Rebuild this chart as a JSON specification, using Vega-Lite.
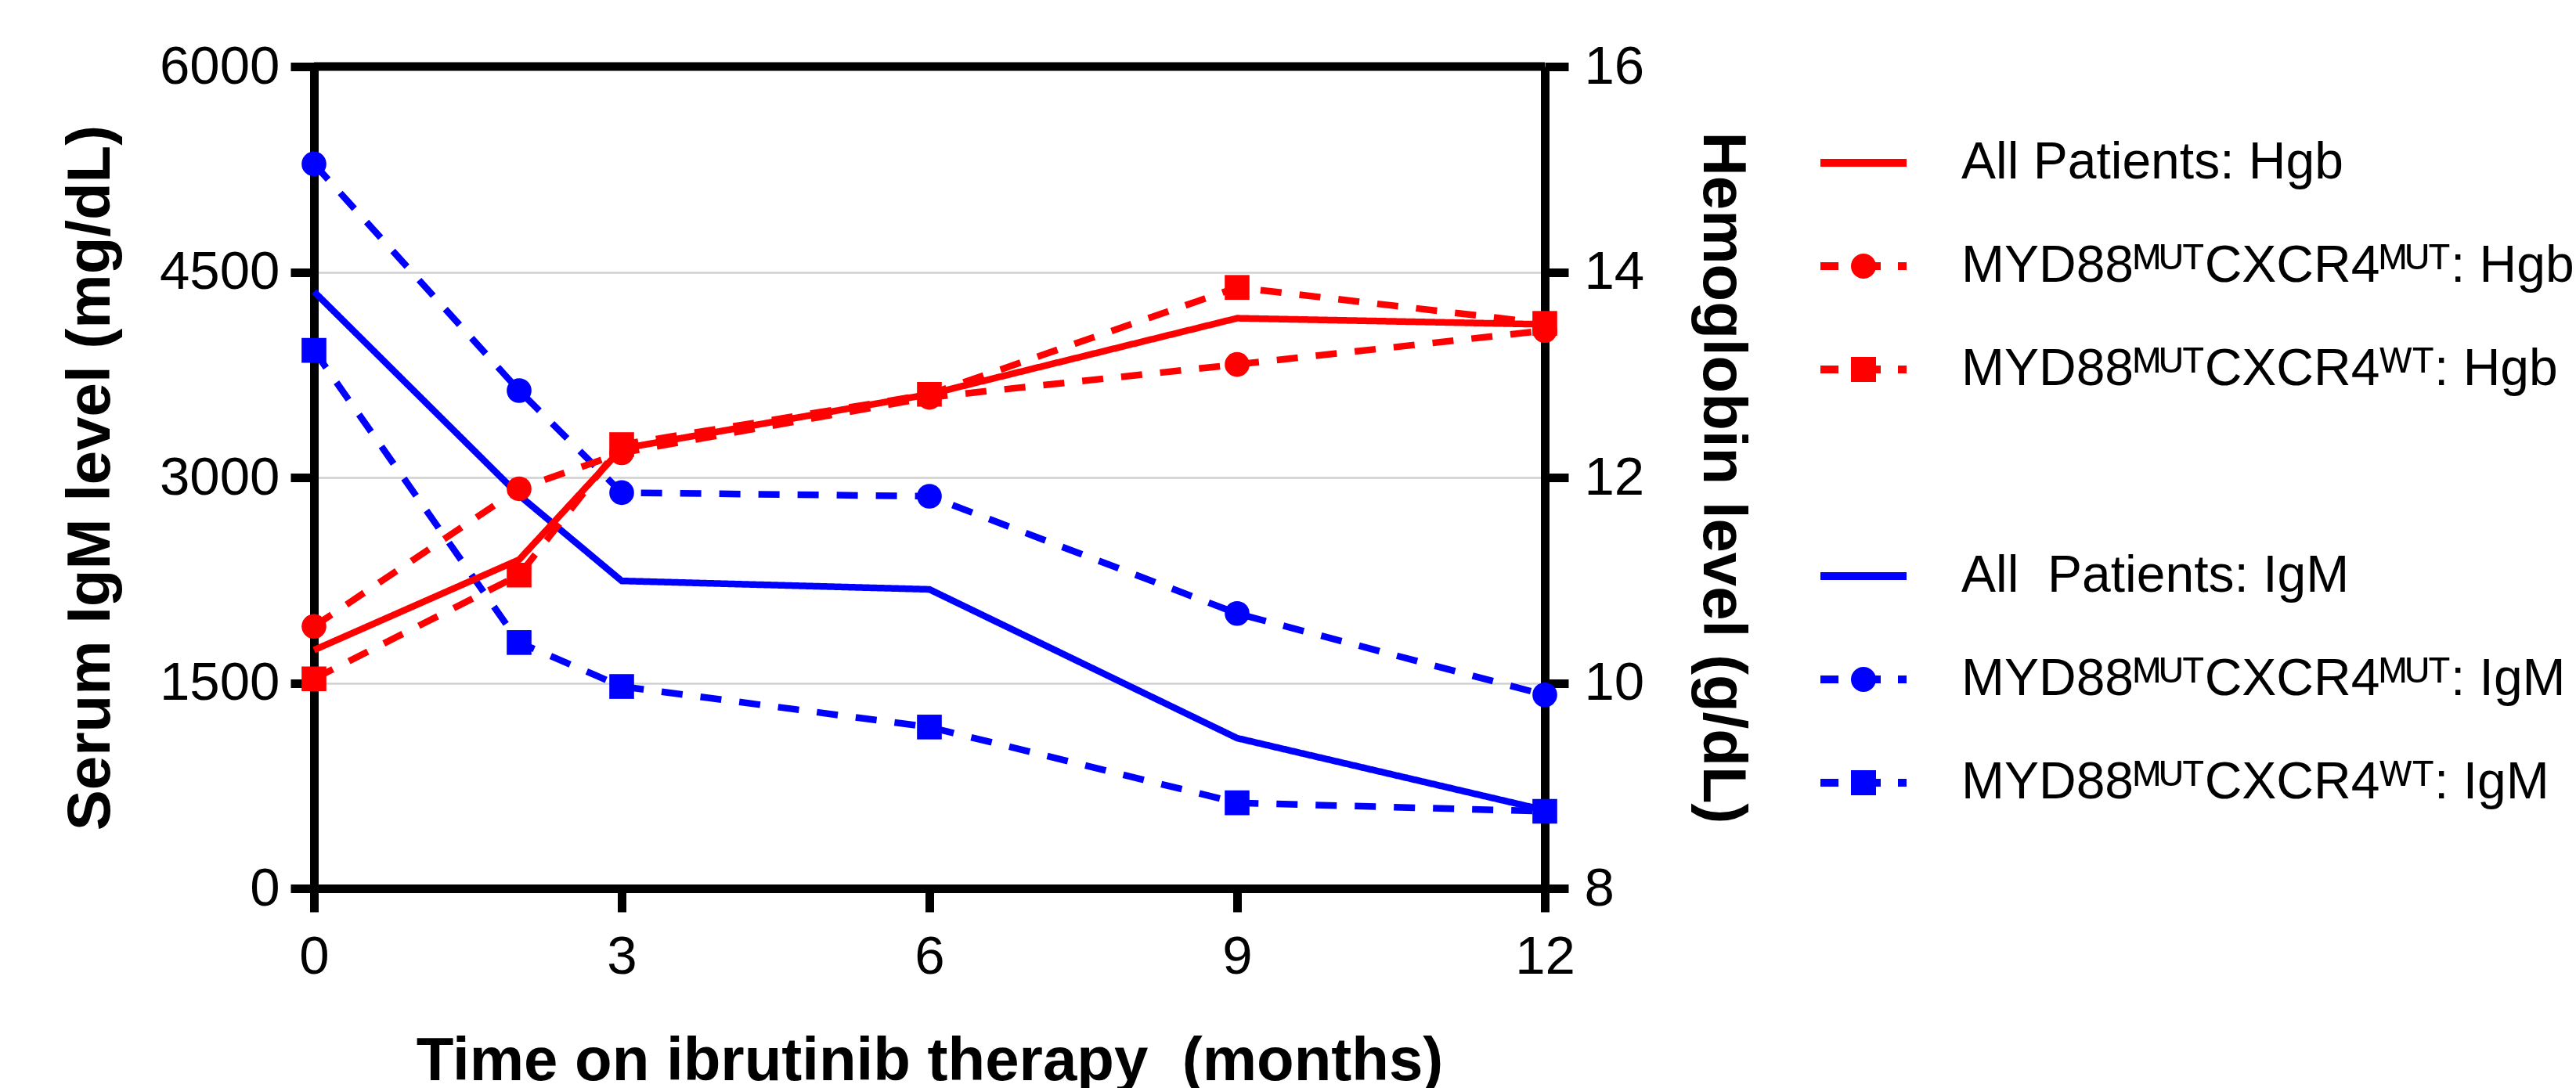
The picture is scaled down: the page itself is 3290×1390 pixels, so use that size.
{
  "$schema": "https://vega.github.io/schema/vega-lite/v6.json",
  "width": 1572,
  "height": 1050,
  "autosize": {"type": "none"},
  "padding": {"left": 401, "top": 85, "right": 1317, "bottom": 255},
  "background": "white",
  "datasets": {
    "d": [
      {"month": 0, "value": 4357, "measure": "IgM", "cohort": "All"},
      {"month": 2, "value": 2870, "measure": "IgM", "cohort": "All"},
      {"month": 3, "value": 2245, "measure": "IgM", "cohort": "All"},
      {"month": 6, "value": 2183, "measure": "IgM", "cohort": "All"},
      {"month": 9, "value": 1097, "measure": "IgM", "cohort": "All"},
      {"month": 12, "value": 571, "measure": "IgM", "cohort": "All"},
      {"month": 0, "value": 5289, "measure": "IgM", "cohort": "MUT"},
      {"month": 2, "value": 3634, "measure": "IgM", "cohort": "MUT"},
      {"month": 3, "value": 2889, "measure": "IgM", "cohort": "MUT"},
      {"month": 6, "value": 2863, "measure": "IgM", "cohort": "MUT"},
      {"month": 9, "value": 2007, "measure": "IgM", "cohort": "MUT"},
      {"month": 12, "value": 1413, "measure": "IgM", "cohort": "MUT"},
      {"month": 0, "value": 3928, "measure": "IgM", "cohort": "WT"},
      {"month": 2, "value": 1795, "measure": "IgM", "cohort": "WT"},
      {"month": 3, "value": 1474, "measure": "IgM", "cohort": "WT"},
      {"month": 6, "value": 1178, "measure": "IgM", "cohort": "WT"},
      {"month": 9, "value": 625, "measure": "IgM", "cohort": "WT"},
      {"month": 12, "value": 563, "measure": "IgM", "cohort": "WT"},
      {"month": 0, "value": 10.32, "measure": "Hgb", "cohort": "All"},
      {"month": 2, "value": 11.2, "measure": "Hgb", "cohort": "All"},
      {"month": 3, "value": 12.28, "measure": "Hgb", "cohort": "All"},
      {"month": 6, "value": 12.81, "measure": "Hgb", "cohort": "All"},
      {"month": 9, "value": 13.55, "measure": "Hgb", "cohort": "All"},
      {"month": 12, "value": 13.49, "measure": "Hgb", "cohort": "All"},
      {"month": 0, "value": 10.55, "measure": "Hgb", "cohort": "MUT"},
      {"month": 2, "value": 11.89, "measure": "Hgb", "cohort": "MUT"},
      {"month": 3, "value": 12.24, "measure": "Hgb", "cohort": "MUT"},
      {"month": 6, "value": 12.78, "measure": "Hgb", "cohort": "MUT"},
      {"month": 9, "value": 13.1, "measure": "Hgb", "cohort": "MUT"},
      {"month": 12, "value": 13.43, "measure": "Hgb", "cohort": "MUT"},
      {"month": 0, "value": 10.04, "measure": "Hgb", "cohort": "WT"},
      {"month": 2, "value": 11.05, "measure": "Hgb", "cohort": "WT"},
      {"month": 3, "value": 12.32, "measure": "Hgb", "cohort": "WT"},
      {"month": 6, "value": 12.81, "measure": "Hgb", "cohort": "WT"},
      {"month": 9, "value": 13.85, "measure": "Hgb", "cohort": "WT"},
      {"month": 12, "value": 13.5, "measure": "Hgb", "cohort": "WT"}
    ],
    "leg": [
      {"series": "All Patients: Hgb"},
      {"series": "MYD88\u1d39\u1d41\u1d40CXCR4\u1d39\u1d41\u1d40: Hgb"},
      {"series": "MYD88\u1d39\u1d41\u1d40CXCR4\u1d42\u1d40: Hgb"},
      {"series": "All\u00a0 Patients: IgM"},
      {"series": "MYD88\u1d39\u1d41\u1d40CXCR4\u1d39\u1d41\u1d40: IgM"},
      {"series": "MYD88\u1d39\u1d41\u1d40CXCR4\u1d42\u1d40: IgM"}
    ]
  },
  "config": {
    "font": "Liberation Sans",
    "view": {"stroke": "transparent"},
    "axis": {
      "domainColor": "black", "domainWidth": 11,
      "tickColor": "black", "tickWidth": 11, "tickSize": 30,
      "labelFont": "Liberation Sans", "labelFontSize": 69, "labelColor": "black",
      "titleFont": "Liberation Sans", "titleFontSize": 78, "titleFontWeight": "bold", "titleColor": "black",
      "grid": false, "labelFlush": false, "labelOverlap": false
    }
  },
  "layer": [
    {
      "data": {"name": "d"},
      "transform": [{"filter": "datum.measure === 'IgM'"}],
      "encoding": {
        "x": {"field": "month", "type": "quantitative",
              "scale": {"domain": [0, 12], "nice": false},
              "axis": {"values": [0, 3, 6, 9, 12], "format": "d", "labelPadding": 23, "titlePadding": 60,
                       "title": "Time on ibrutinib therapy\u00a0 (months)"}},
        "y": {"field": "value", "type": "quantitative",
              "scale": {"domain": [0, 6000], "nice": false},
              "axis": {"orient": "left", "values": [0, 1500, 3000, 4500, 6000], "format": "d",
                       "labelPadding": 14, "titlePadding": 48, "grid": true, "gridColor": "#d0d0d0", "gridWidth": 2.5,
                       "title": "Serum IgM level (mg/dL)"}}
      },
      "layer": [
        {"mark": {"type": "line", "color": "#0000ff", "strokeWidth": 8.5},
         "encoding": {"strokeDash": {"field": "cohort", "type": "nominal",
                        "scale": {"domain": ["All", "MUT", "WT"], "range": [[1, 0], [27, 23], [27, 23]]}, "legend": null}}},
        {"transform": [{"filter": "datum.cohort === 'MUT'"}],
         "mark": {"type": "point", "shape": "circle", "filled": true, "color": "#0000ff", "size": 1000, "opacity": 1}},
        {"transform": [{"filter": "datum.cohort === 'WT'"}],
         "mark": {"type": "point", "shape": "square", "filled": true, "color": "#0000ff", "size": 1000, "opacity": 1}}
      ]
    },
    {
      "data": {"name": "d"},
      "transform": [{"filter": "datum.measure === 'Hgb'"}],
      "encoding": {
        "x": {"field": "month", "type": "quantitative",
              "scale": {"domain": [0, 12], "nice": false},
              "axis": {"values": [0, 3, 6, 9, 12], "format": "d", "labelPadding": 23, "titlePadding": 60,
                       "title": "Time on ibrutinib therapy\u00a0 (months)"}},
        "y": {"field": "value", "type": "quantitative",
              "scale": {"domain": [8, 16], "nice": false},
              "axis": {"orient": "right", "values": [8, 10, 12, 14, 16], "format": "d",
                       "labelPadding": 20, "titlePadding": 60, "grid": false,
                       "title": "Hemoglobin level (g/dL)"}}
      },
      "layer": [
        {"mark": {"type": "line", "color": "#ff0000", "strokeWidth": 8.5},
         "encoding": {"strokeDash": {"field": "cohort", "type": "nominal",
                        "scale": {"domain": ["All", "MUT", "WT"], "range": [[1, 0], [27, 23], [27, 23]]}, "legend": null}}},
        {"transform": [{"filter": "datum.cohort === 'MUT'"}],
         "mark": {"type": "point", "shape": "circle", "filled": true, "color": "#ff0000", "size": 1000, "opacity": 1}},
        {"transform": [{"filter": "datum.cohort === 'WT'"}],
         "mark": {"type": "point", "shape": "square", "filled": true, "color": "#ff0000", "size": 1000, "opacity": 1}}
      ]
    },
    {
      "data": {"values": [{"edge": "top"}]},
      "mark": {"type": "rule", "color": "black", "strokeWidth": 11},
      "encoding": {"y": {"datum": 6000, "type": "quantitative", "scale": {"domain": [0, 6000], "nice": false}, "axis": null}}
    },
    {
      "data": {"name": "leg"},
      "mark": {"type": "point", "opacity": 0},
      "encoding": {
        "color": {"field": "series", "type": "nominal",
          "scale": {
            "domain": ["All Patients: Hgb", "MYD88\u1d39\u1d41\u1d40CXCR4\u1d39\u1d41\u1d40: Hgb", "MYD88\u1d39\u1d41\u1d40CXCR4\u1d42\u1d40: Hgb", " ",
                       "All\u00a0 Patients: IgM", "MYD88\u1d39\u1d41\u1d40CXCR4\u1d39\u1d41\u1d40: IgM", "MYD88\u1d39\u1d41\u1d40CXCR4\u1d42\u1d40: IgM"],
            "range": ["#ff0000", "#ff0000", "#ff0000", "#ffffff", "#0000ff", "#0000ff", "#0000ff"]},
          "legend": {
            "orient": "none", "legendX": 1919, "legendY": 63, "title": null, "padding": 0,
            "symbolSize": 12100, "symbolStrokeWidth": 10, "symbolOpacity": 1,
            "labelFont": "Liberation Sans", "labelFontSize": 66, "labelColor": "black", "labelLimit": 0,
            "labelOffset": 65, "rowPadding": 39,
            "encode": {"symbols": {
              "fill": {"value": {"expr": "scale('color', datum.value)"}},
              "stroke": {"value": {"expr": "scale('color', datum.value)"}}
            }}
          }},
        "shape": {"field": "series", "type": "nominal",
          "scale": {
            "domain": ["All Patients: Hgb", "MYD88\u1d39\u1d41\u1d40CXCR4\u1d39\u1d41\u1d40: Hgb", "MYD88\u1d39\u1d41\u1d40CXCR4\u1d42\u1d40: Hgb", " ",
                       "All\u00a0 Patients: IgM", "MYD88\u1d39\u1d41\u1d40CXCR4\u1d39\u1d41\u1d40: IgM", "MYD88\u1d39\u1d41\u1d40CXCR4\u1d42\u1d40: IgM"],
            "range": [
              "M-1,0L1,0",
              "M-1,0L-0.58,0M0,0L0.4,0M0.8,0L1,0M0.2,0A0.2,0.2,0,1,1,-0.2,0A0.2,0.2,0,1,1,0.2,0ZM0.09,0A0.09,0.09,0,1,1,-0.09,0A0.09,0.09,0,1,1,0.09,0Z",
              "M-1,0L-0.58,0M0,0L0.4,0M0.8,0L1,0M-0.2,-0.2L0.2,-0.2L0.2,0.2L-0.2,0.2ZM-0.09,-0.09L0.09,-0.09L0.09,0.09L-0.09,0.09Z",
              "M0,0",
              "M-1,0L1,0",
              "M-1,0L-0.58,0M0,0L0.4,0M0.8,0L1,0M0.2,0A0.2,0.2,0,1,1,-0.2,0A0.2,0.2,0,1,1,0.2,0ZM0.09,0A0.09,0.09,0,1,1,-0.09,0A0.09,0.09,0,1,1,0.09,0Z",
              "M-1,0L-0.58,0M0,0L0.4,0M0.8,0L1,0M-0.2,-0.2L0.2,-0.2L0.2,0.2L-0.2,0.2ZM-0.09,-0.09L0.09,-0.09L0.09,0.09L-0.09,0.09Z"
            ]}}
      }
    }
  ],
  "resolve": {"scale": {"y": "independent"}}
}
